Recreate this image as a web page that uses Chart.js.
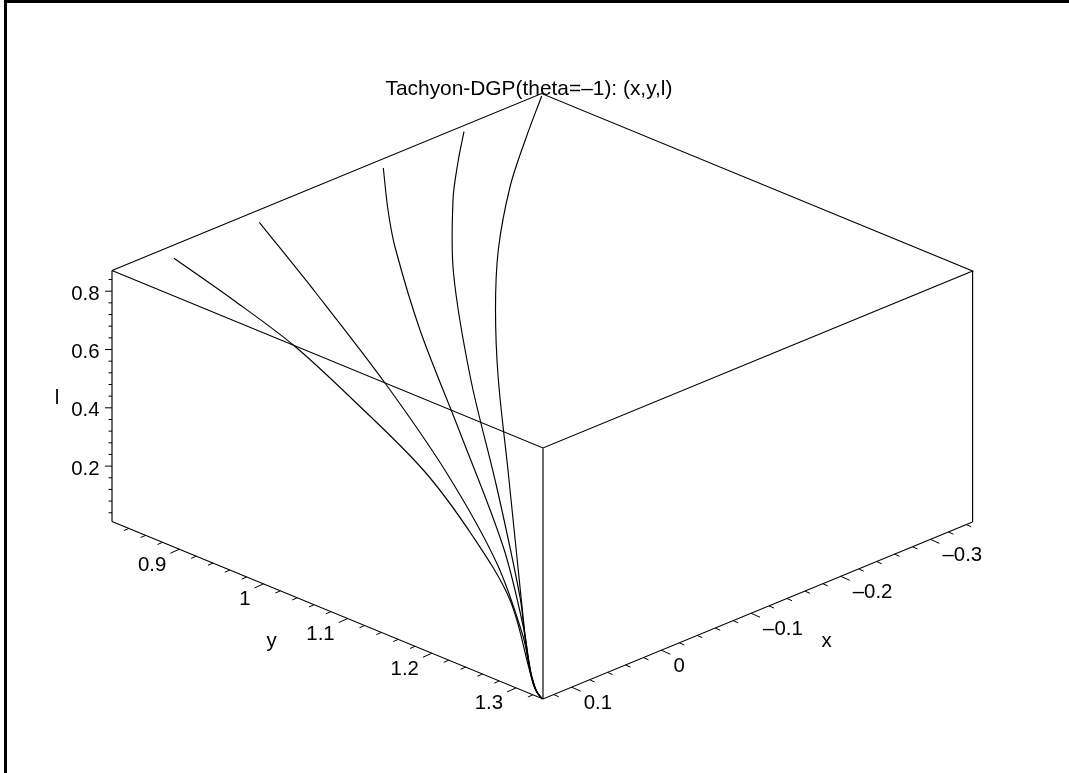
<!DOCTYPE html>
<html>
<head>
<meta charset="utf-8">
<style>html,body{margin:0;padding:0;background:#fff}canvas{display:block}</style>
<script src="https://cdn.jsdelivr.net/npm/chart.js@4"></script>
</head>
<body>
<canvas id="c" width="1069" height="773"></canvas>
<script>
// --- values ---
const titleText = "Tachyon-DGP(theta=\u20131): (x,y,l)";
const xAxisTicks = [0.1, 0, -0.1, -0.2, -0.3];
const xAxisLabels = ["0.1", "0", "\u20130.1", "\u20130.2", "\u20130.3"];
const yAxisTicks = [0.9, 1, 1.1, 1.2, 1.3];
const yAxisLabels = ["0.9", "1", "1.1", "1.2", "1.3"];
const lAxisTicks = [0.2, 0.4, 0.6, 0.8];
const lAxisLabels = ["0.2", "0.4", "0.6", "0.8"];
const xRange = [-0.347, 0.132];
const yRange = [0.82, 1.332];
const lRange = [0.01, 0.871];

// curves, in picture-plane units of the projected view
const curve1H = [541.7,526,510,498.3,495.5,498.3,508.3,520,525.7,530.4,533.6,536.9,542.3];
const curve1V = [96,138,187,250,310,379,473,587,640,670,683,691.7,699];
const curve2H = [464,458,453,453.5,470.7,496.7,520,525.3,530.2,533.5,536.8,542.3];
const curve2V = [131.7,162,200,273,379,487,597,640,670,683,691.7,699];
const curve3H = [383.3,388,395,420,459,503.3,524,530,533.3,536.7,542.3];
const curve3V = [168,210,247,330,430,547,630,670,683,691.7,699];
const curve4H = [259.3,316,385,446.7,496.7,523,529.8,533.1,536.6,542.3];
const curve4V = [222.3,293,383,473,563,636,670,683,691.7,699];
const curve5H = [174,233.3,293.3,350,423.3,473.3,510,529.5,532.9,536.5,542.3];
const curve5V = [258.3,300,345,397,470,537,600,670,683,691.7,699];

// --- view of the box on the page (plane units) ---
const front = {h: 543, v: 699};
const perX = {h: 429.6 / (xRange[1] - xRange[0]), v: 177 / (xRange[1] - xRange[0])};
const perY = {h: 431 / (yRange[1] - yRange[0]), v: 177.5 / (yRange[1] - yRange[0])};
const perL = 251 / (lRange[1] - lRange[0]);

function proj(x, y, l) {
  const dx = xRange[1] - x, dy = yRange[1] - y, dl = l - lRange[0];
  return {
    x: front.h + dx * perX.h - dy * perY.h,
    y: front.v - dx * perX.v - dy * perY.v - dl * perL
  };
}
const [xMin, xMax] = xRange, [yMin, yMax] = yRange, [lMin, lMax] = lRange;
const gap = {x: NaN, y: NaN};

const boxEdges = [
  proj(xMax,yMin,lMax), proj(xMin,yMin,lMax), proj(xMin,yMax,lMax), proj(xMax,yMax,lMax), proj(xMax,yMin,lMax), gap,
  proj(xMax,yMin,lMin), proj(xMax,yMax,lMin), proj(xMin,yMax,lMin), gap,
  proj(xMax,yMin,lMin), proj(xMax,yMin,lMax), gap,
  proj(xMax,yMax,lMin), proj(xMax,yMax,lMax), gap,
  proj(xMin,yMax,lMin), proj(xMin,yMax,lMax)
];

function isMajor(v, list) { return list.some(t => Math.abs(t - v) < 1e-6); }
const tickMarks = [];
function addTick(p, dh, dv) { tickMarks.push({x:p.x,y:p.y}, {x:p.x+dh,y:p.y+dv}, gap); }
for (let k = 1; k <= 21; k++) { // every 0.04 on l
  const v = k * 0.04;
  if (v < lMin || v > lMax) continue;
  const m = isMajor(v, lAxisTicks);
  addTick(proj(xMax,yMin,v), m ? -7 : -3.5, 0);
}
for (let k = 42; k * 0.02 < yMax; k++) { // every 0.02 on y
  const v = k * 0.02;
  const m = isMajor(v, yAxisTicks);
  addTick(proj(xMax,v,lMin), m ? -9 : -5, m ? 4 : 2.2);
}
for (let k = -17; k * 0.02 < xMax; k++) { // every 0.02 on x
  const v = k * 0.02;
  const m = isMajor(v, xAxisTicks);
  addTick(proj(v,yMax,lMin), m ? 9 : 5, m ? 4 : 2.2);
}

function pts(h, v) { return h.map((a, i) => ({x: a, y: v[i]})); }
function line(data, tension, width) {
  return {data, showLine: true, tension, borderColor: "#000", borderWidth: width,
          pointRadius: 0, fill: false, borderCapStyle: "butt"};
}

const textPlugin = {
  id: "textLayer",
  afterDatasetsDraw(chart) {
    const c = chart.ctx, sx = chart.scales.x, sy = chart.scales.y;
    const put = (t, h, v, align, size) => {
      c.font = (size || 20.4) + 'px "Liberation Sans", Arial, sans-serif';
      c.textAlign = align; c.textBaseline = "alphabetic"; c.fillStyle = "#000";
      c.fillText(t, sx.getPixelForValue(h), sy.getPixelForValue(v));
    };
    c.save();
    put(titleText, 385.5, 95, "left", 20.9);
    lAxisTicks.forEach((t, i) => { const p = proj(xMax,yMin,t); put(lAxisLabels[i], p.x - 12.5, p.y + 8.6, "right"); });
    yAxisTicks.forEach((t, i) => { const p = proj(xMax,t,lMin); put(yAxisLabels[i], p.x - 13, p.y + 21.5, "right"); });
    xAxisTicks.forEach((t, i) => { const p = proj(t,yMax,lMin); put(xAxisLabels[i], p.x + 12, p.y + 22, "left"); });
    put("l", 57, 404, "center");
    put("y", 271.7, 647, "center");
    put("x", 826.7, 646.7, "center");
    c.restore();
  }
};

new Chart(document.getElementById("c"), {
  type: "scatter",
  data: {
    datasets: [
      line([{x:5.5,y:0},{x:5.5,y:773}], 0, 3),
      line([{x:4,y:1.5},{x:1069,y:1.5}], 0, 3),
      line(boxEdges, 0, 1.15),
      line(tickMarks, 0, 1),
      line(pts(curve1H, curve1V), 0.33, 1.15),
      line(pts(curve2H, curve2V), 0.33, 1.15),
      line(pts(curve3H, curve3V), 0.33, 1.15),
      line(pts(curve4H, curve4V), 0.33, 1.15),
      line(pts(curve5H, curve5V), 0.33, 1.15)
    ]
  },
  options: {
    responsive: false,
    animation: false,
    layout: {padding: 0},
    plugins: {legend: {display: false}, tooltip: {enabled: false}, title: {display: false}},
    scales: {
      x: {type: "linear", min: 0, max: 1069, display: false},
      y: {type: "linear", min: 0, max: 773, reverse: true, display: false}
    }
  },
  plugins: [textPlugin]
});
</script>
</body>
</html>
